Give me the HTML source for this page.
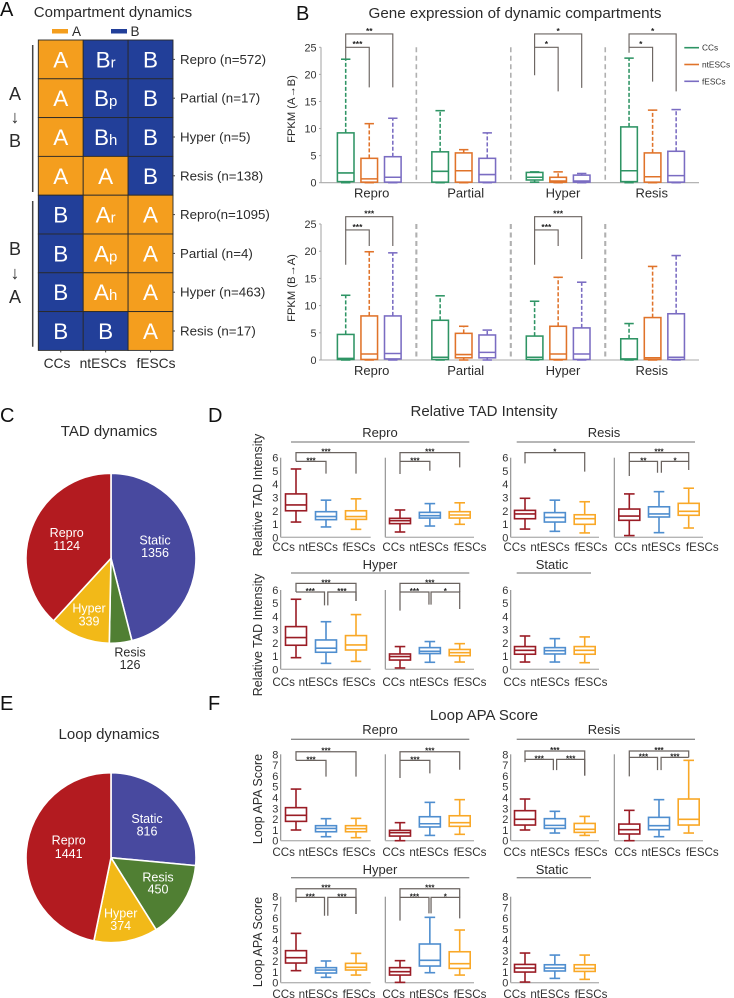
<!DOCTYPE html>
<html lang="en">
<head>
<meta charset="utf-8">
<title>Compartment, TAD and loop dynamics</title>
<style>
html,body{margin:0;padding:0;background:#fff;width:734px;height:998px;overflow:hidden}
svg{display:block;filter:blur(0.3px)}
text{font-family:"Liberation Sans","DejaVu Sans",sans-serif}
</style>
</head>
<body>
<svg id="figure" xmlns="http://www.w3.org/2000/svg" width="734" height="998" viewBox="0 0 734 998"></svg>
<script>
/* ---------- Panel A data ---------- */
const heatmapColumns = ['CCs', 'ntESCs', 'fESCs'];
const heatmapRowLabels = ['Repro (n=572)', 'Partial (n=17)', 'Hyper (n=5)', 'Resis (n=138)', 'Repro(n=1095)', 'Partial (n=4)', 'Hyper (n=463)', 'Resis (n=17)'];
const heatmapCells = [
  ['A', 'Br', 'B'], ['A', 'Bp', 'B'], ['A', 'Bh', 'B'], ['A', 'A', 'B'],
  ['B', 'Ar', 'A'], ['B', 'Ap', 'A'], ['B', 'Ah', 'A'], ['B', 'B', 'A']
];

/* ---------- Panel B data: [low, q1, median, q3, high] ---------- */
const exprGroups = ['Repro', 'Partial', 'Hyper', 'Resis'];
const exprSeries = ['CCs', 'ntESCs', 'fESCs'];
const exprTicks = [0, 5, 10, 15, 20, 25];
const exprTopRepro = [[0, 0.2, 1.8, 9.2, 22.8], [0, 0.1, 0.7, 4.5, 10.9], [0, 0.1, 1.0, 4.8, 11.9]];
const exprTopPartial = [[0, 0.1, 2.1, 5.7, 13.3], [0, 0.1, 2.2, 5.5, 6.1], [0, 0.1, 1.5, 4.5, 9.2]];
const exprTopHyper = [[0.1, 0.5, 1.0, 1.9, 2.0], [0, 0.1, 0.3, 1.0, 2.0], [0, 0.1, 0.3, 1.4, 1.7]];
const exprTopResis = [[0, 0.2, 2.2, 10.3, 23.0], [0, 0.1, 1.1, 5.5, 13.4], [0, 0.1, 1.3, 5.8, 13.5]];
const exprBottomRepro = [[0, 0.1, 0.3, 4.7, 11.9], [0, 0.1, 1.1, 8.1, 19.9], [0, 0.2, 1.2, 8.1, 19.7]];
const exprBottomPartial = [[0, 0.1, 0.5, 7.3, 11.8], [0, 0.4, 1.0, 4.9, 6.2], [0, 0.4, 1.4, 4.6, 5.5]];
const exprBottomHyper = [[0, 0.1, 0.5, 4.4, 10.8], [0, 0.1, 1.1, 6.2, 15.2], [0, 0.1, 1.1, 5.9, 14.3]];
const exprBottomResis = [[0, 0.1, 0.2, 3.9, 6.7], [0, 0.1, 0.4, 7.8, 17.2], [0, 0.1, 0.5, 8.5, 19.2]];
/* significance brackets, in axis units: [from, to, level, dropFrom, dropTo, stars] */
const sigTopRepro = [[0, 2, 27.46, 25, 17.6, '**'], [0, 1, 25, 22.9, 17.6, '***']];
const sigTopHyper = [[0, 2, 27.46, 25, 17.5, '*'], [0, 1, 25, 19.83, 16.87, '*']];
const sigTopResis = [[0, 2, 27.46, 25, 16.87, '*'], [0, 1, 25, 24, 18.66, '*']];
const sigBottomRepro = [[0, 2, 26.35, 23.9, 20.96, '***'], [0, 1, 23.9, 17.5, 20.96, '***']];
const sigBottomHyper = [[0, 2, 26.35, 23.9, 18.57, '***'], [0, 1, 23.9, 17.5, 20.96, '***']];

/* ---------- Panel C / E data ---------- */
const pieLabels = ['Static', 'Resis', 'Hyper', 'Repro'];
const tadCounts = [1356, 126, 339, 1124];
const loopCounts = [816, 450, 374, 1441];

/* ---------- Panel D data: [low, q1, median, q3, high] ---------- */
const boxCategories = ['CCs', 'ntESCs', 'fESCs'];
const tadTicks = [0, 1, 2, 3, 4, 5, 6];
const tadReproA = [[1.15, 2.0, 2.44, 3.27, 5.15], [0.78, 1.33, 1.56, 1.93, 2.8], [0.6, 1.35, 1.56, 2.0, 2.9]];
const tadReproB = [[0.4, 1.03, 1.25, 1.43, 2.06], [0.85, 1.45, 1.63, 1.88, 2.54], [0.98, 1.45, 1.68, 1.93, 2.6]];
const tadResisA = [[0.62, 1.4, 1.76, 2.03, 2.94], [0.45, 1.15, 1.5, 1.86, 2.8], [0.33, 0.98, 1.4, 1.7, 2.68]];
const tadResisB = [[0.13, 1.28, 1.6, 2.13, 3.27], [0.35, 1.53, 1.76, 2.3, 3.44], [0.7, 1.66, 1.96, 2.56, 3.7]];
const tadHyperA = [[0.88, 1.82, 2.4, 3.23, 5.3], [0.45, 1.29, 1.6, 2.22, 3.6], [0.6, 1.46, 1.84, 2.55, 4.14]];
const tadHyperB = [[0.1, 0.7, 0.96, 1.16, 1.72], [0.53, 1.19, 1.36, 1.64, 2.1], [0.55, 1.03, 1.26, 1.5, 1.94]];
const tadStatic = [[0.55, 1.14, 1.44, 1.72, 2.52], [0.55, 1.16, 1.41, 1.64, 2.32], [0.5, 1.14, 1.44, 1.72, 2.45]];
const sigTadReproA = [[0, 2, 6.38, 5.72, 4.8, '***'], [0, 1, 5.72, 5.72, 4.8, '***']];
const sigTadReproB = [[0, 2, 6.38, 4.77, 5.27, '***'], [0, 1, 5.72, 5.72, 5.02, '***']];
const sigTadResisA = [[0, 2, 6.38, 5.57, 4.95, '*']];
const sigTadResisB = [[0, 2, 6.38, 4.62, 5.72, '***'], [0, 0.95, 5.72, 5.72, 4.87, '**'], [1.08, 2, 5.72, 4.87, 5.07, '*']];
const sigTadHyperA = [[0, 2, 6.5, 5.85, 5.17, '***'], [0, 0.95, 5.85, 5.85, 4.84, '***'], [1.06, 2, 5.85, 4.84, 5.17, '***']];
const sigTadHyperB = [[0, 2, 6.5, 4.44, 5.85, '***'], [0, 0.97, 5.85, 5.85, 4.89, '***'], [1.04, 2, 5.85, 4.89, 4.56, '*']];

/* ---------- Panel F data: [low, q1, median, q3, high] ---------- */
const apaTicks = [0, 1, 2, 3, 4, 5, 6, 7, 8];
const apaReproA = [[0.99, 1.79, 2.35, 3.06, 4.78], [0.37, 0.83, 1.14, 1.39, 2.04], [0.28, 0.83, 1.11, 1.39, 2.07]];
const apaReproB = [[0, 0.43, 0.74, 0.96, 1.67], [0.49, 1.27, 1.57, 2.22, 3.55], [0.59, 1.33, 1.67, 2.31, 3.8]];
const apaResisA = [[0.99, 1.45, 1.98, 2.78, 3.86], [0.71, 1.14, 1.42, 2.04, 2.72], [0.49, 0.77, 1.05, 1.6, 2.25]];
const apaResisB = [[0, 0.62, 1.02, 1.54, 2.81], [0.37, 1.02, 1.39, 2.16, 3.8], [0.71, 1.45, 1.98, 3.86, 7.44]];
const apaHyperA = [[1.12, 1.83, 2.33, 2.98, 4.59], [0.5, 0.9, 1.18, 1.4, 2.02], [0.71, 1.18, 1.43, 1.8, 2.73]];
const apaHyperB = [[0.03, 0.71, 1.02, 1.4, 2.05], [0.93, 1.55, 2.08, 3.6, 6.08], [0.71, 1.33, 1.77, 2.88, 4.9]];
const apaStatic = [[0.06, 0.99, 1.36, 1.7, 2.76], [0.4, 1.09, 1.36, 1.67, 2.57], [0.31, 1.05, 1.33, 1.67, 2.57]];
const sigApaReproA = [[0, 2, 8.24, 7.44, 5.93, '***'], [0, 1, 7.44, 7.44, 5.93, '***']];
const sigApaReproB = [[0, 2, 8.24, 5.8, 6.57, '***'], [0, 1, 7.44, 7.44, 6.23, '***']];
const sigApaResisA = [[0, 2, 8.3, 7.28, 6.02, '***'], [0, 0.95, 7.53, 7.53, 6.54, '***'], [1.06, 2, 7.53, 6.54, 6.02, '***']];
const sigApaResisB = [[0, 2, 8.3, 5.96, 7.72, '***'], [0, 0.95, 7.72, 7.72, 6.54, '***'], [1.07, 2, 7.72, 6.54, 7.72, '***']];
const sigApaHyperA = [[0, 2, 8.74, 7.5, 6.39, '***'], [0, 0.95, 7.94, 7.94, 6.23, '***'], [1.06, 2, 7.94, 6.23, 6.39, '***']];
const sigApaHyperB = [[0, 2, 8.74, 5.77, 7.94, '***'], [0, 0.97, 7.94, 7.94, 6.45, '***'], [1.04, 2, 7.94, 6.45, 5.98, '*']];

/* ---------- helpers ---------- */
const NS = 'http://www.w3.org/2000/svg';
const root = document.getElementById('figure');
const INK = '#2b2b2b';
function mk(tag, parent, attrs) {
  const el = document.createElementNS(NS, tag);
  for (const k in attrs) el.setAttribute(k, attrs[k]);
  parent.appendChild(el);
  return el;
}
function txt(parent, x, y, s, size, fill, anchor) {
  const el = mk('text', parent, {x: x, y: y, 'font-size': size, fill: fill || INK, 'text-anchor': anchor || 'start'});
  el.textContent = s;
  return el;
}
function line(parent, x1, y1, x2, y2, stroke, width) {
  return mk('line', parent, {x1: x1, y1: y1, x2: x2, y2: y2, stroke: stroke, 'stroke-width': width});
}
function group(parent) {
  return mk('g', parent, {});
}
function slug(s) {
  return s.toLowerCase().replace(/[^a-z0-9]+/g, '-').replace(/^-|-$/g, '');
}

/* ---------- panel letters and titles ---------- */
function panelLetter(s, x, y) {
  const el = txt(root, x, y, s, 20, '#111');
  
  
}
panelLetter('A', 0, 16);
panelLetter('B', 296, 20);
panelLetter('C', 0, 422);
panelLetter('D', 208, 422);
panelLetter('E', 0, 710);
panelLetter('F', 208, 710);

function figTitle(s, x, y, size) {
  const el = txt(root, x, y, s, size, INK, 'middle');
  
  
}
figTitle('Compartment dynamics', 113, 17, 15);
figTitle('Gene expression of dynamic compartments', 515, 18, 15.2);
figTitle('TAD dynamics', 109, 436, 15);
figTitle('Loop dynamics', 109, 739, 15);
figTitle('Relative TAD Intensity', 484, 416, 15);
figTitle('Loop APA Score', 484, 720, 15);

/* ---------- Panel A ---------- */
(function () {
  const g = group(root);
  
  
  const ORANGE = '#F49E1E', BLUE = '#223F99';
  const hx = c => 38.3 + c * 44.9;
  const hy = r => 40 + r * 38.8;

  const legA = mk('rect', g, {x: 52, y: 29, width: 16, height: 4.5, fill: ORANGE});
  
  
  const legAT = txt(g, 72, 36, 'A', 13.5);
  
  
  const legB = mk('rect', g, {x: 111, y: 29, width: 16, height: 4.5, fill: BLUE});
  
  
  const legBT = txt(g, 130.5, 36, 'B', 13.5);
  
  

  heatmapCells.forEach((row, r) => {
    row.forEach((cell, c) => {
      const rect = mk('rect', g, {x: hx(c), y: hy(r), width: hx(c + 1) - hx(c), height: hy(r + 1) - hy(r), fill: cell[0] === 'A' ? ORANGE : BLUE, stroke: '#2a2a2a', 'stroke-width': 0.9});
      
      
      const t = txt(g, (hx(c) + hx(c + 1)) / 2, (hy(r) + hy(r + 1)) / 2 + 8, cell[0], 22.5, '#fff', 'middle');
      
      
      if (cell.length > 1) {
        const sub = mk('tspan', t, {'font-size': 15});
        sub.textContent = cell.slice(1);
        
        
      }
    });
    const tick = line(g, hx(3), (hy(r) + hy(r + 1)) / 2, hx(3) + 2, (hy(r) + hy(r + 1)) / 2, '#444', 1);
    
    
    const lab = txt(g, 180, (hy(r) + hy(r + 1)) / 2 + 4.5, heatmapRowLabels[r], 13.3);
    
    
  });
  heatmapColumns.forEach((s, c) => {
    const tick = line(g, (hx(c) + hx(c + 1)) / 2, hy(8), (hx(c) + hx(c + 1)) / 2, hy(8) + 2, '#444', 1);
    
    
    const t = txt(g, [57, 103, 156][c], 368, s, 13.8, INK, 'middle');
    
    
  });

  const b1 = line(g, 32.7, 45, 32.7, 192, '#444', 1.5);
  
  
  const b2 = line(g, 32.7, 201, 32.7, 346.7, '#444', 1.5);
  
  
  [['A', 100], ['\u2193', 123], ['B', 147], ['B', 255], ['\u2193', 279], ['A', 303]].forEach(item => {
    const t = txt(g, 15, item[1], item[0], 18, INK, 'middle');
    
    
  });
})();

/* ---------- shared box drawing ---------- */
function drawBox(parent, xc, halfW, capHalf, y, stats, color, dashed, sw) {
  const g = group(parent);
  
  
  const dash = dashed ? '4 2' : 'none';
  const upper = line(g, xc, y(stats[3]), xc, y(stats[4]), color, sw);
  upper.setAttribute('stroke-dasharray', dash);
  
  
  const lower = line(g, xc, y(stats[1]), xc, y(stats[0]), color, sw);
  
  
  const capHi = line(g, xc - capHalf, y(stats[4]), xc + capHalf, y(stats[4]), color, sw);
  
  
  const capLo = line(g, xc - capHalf, y(stats[0]), xc + capHalf, y(stats[0]), color, sw);
  
  
  const body = mk('rect', g, {x: xc - halfW, y: y(stats[3]), width: halfW * 2, height: y(stats[1]) - y(stats[3]), fill: '#fff', stroke: color, 'stroke-width': sw});
  
  
  const med = line(g, xc - halfW, y(stats[2]), xc + halfW, y(stats[2]), color, sw);
  
  
}
function drawBracket(parent, spec, xPos, y, starGap, starSize, stroke, sw) {
  const g = group(parent);
  
  
  const x1 = xPos(spec[0]), x2 = xPos(spec[1]), yL = y(spec[2]);
  const p = mk('path', g, {d: 'M' + x1 + ' ' + y(spec[3]) + 'V' + yL + 'H' + x2 + 'V' + y(spec[4]), fill: 'none', stroke: stroke, 'stroke-width': sw});
  
  
  const s = txt(g, (x1 + x2) / 2, yL - starGap + starSize * 0.58, spec[5], starSize, '#222', 'middle');
  s.setAttribute('font-weight', 'bold');
  
  
}

/* ---------- Panel B ---------- */
function drawExprChart(name, y0, yTop, yTitle, titleY, labelY, dividerWidth, dataByGroup, sigByGroup) {
  const g = group(root);
  
  
  const COLORS = ['#2E9464', '#E0732A', '#7A6CC2'];
  const y = v => y0 + (yTop - y0) * v / 25;
  const bx = (gi, m) => 345.7 + gi * 94.45 + m * 23.55;

  const ax = line(g, 321, y(25), 321, y(0), '#aaa', 1.1);
  
  
  exprTicks.forEach(v => {
    const t = line(g, 319, y(v), 321, y(v), '#aaa', 1);
    
    
    const l = txt(g, 316.5, y(v) + 4, String(v), 10.8, '#333', 'end');
    
    
  });
  const tt = txt(g, 295, titleY, yTitle, 11.2, INK, 'middle');
  tt.setAttribute('transform', 'rotate(-90 295 ' + titleY + ')');
  
  

  [1, 2, 3].forEach(i => {
    const d = line(g, bx(i - 1, 3), y(25), bx(i - 1, 3), y(0), '#b0b0b0', dividerWidth);
    d.setAttribute('stroke-dasharray', '5 3.5');
    
    
  });
  const xAxis = line(g, 321, y(0), 699, y(0), '#aaa', 1.1);
  
  

  dataByGroup.forEach((series, gi) => {
    series.forEach((stats, m) => {
      drawBox(g, bx(gi, m), 8.3, 4.7, y, stats, COLORS[m], true, 1.55);
    });
    const lab = txt(g, [371.7, 465.7, 563, 651.7][gi], labelY, exprGroups[gi], 13, INK, 'middle');
    
    
    (sigByGroup[gi] || []).forEach(spec => {
      drawBracket(g, spec, m => bx(gi, m), y, 5, 8.5, '#6b6460', 1.15);
    });
  });
}
drawExprChart('expression-chart-a-to-b', 182.7, 47.3, 'FPKM (A\u2192B)', 109, 197.5, 1.6,
  [exprTopRepro, exprTopPartial, exprTopHyper, exprTopResis], [sigTopRepro, [], sigTopHyper, sigTopResis]);
drawExprChart('expression-chart-b-to-a', 360, 224, 'FPKM (B\u2192A)', 288, 375, 2.1,
  [exprBottomRepro, exprBottomPartial, exprBottomHyper, exprBottomResis], [sigBottomRepro, [], sigBottomHyper, []]);

(function () {
  const g = group(root);
  
  
  const COLORS = ['#2E9464', '#E0732A', '#7A6CC2'];
  exprSeries.forEach((s, i) => {
    const yy = 47.7 + i * 16.8;
    const l = line(g, 684.3, yy, 699, yy, COLORS[i], 1.6);
    
    
    const t = txt(g, 702, yy + 3, s, 8.3, '#333');
    
    
  });
})();

/* ---------- Panels C / E (pies) ---------- */
function drawPie(name, cx, cy, r, counts, labelPos) {
  const g = group(root);
  
  
  const COLORS = ['#48499F', '#507F33', '#F2B918', '#B31B20'];
  const total = counts.reduce((a, b) => a + b, 0);
  let a = 0;
  counts.forEach((v, i) => {
    const a2 = a + v / total * Math.PI * 2;
    const pt = ang => (cx + r * Math.sin(ang)) + ' ' + (cy - r * Math.cos(ang));
    const p = mk('path', g, {d: 'M' + cx + ' ' + cy + 'L' + pt(a) + 'A' + r + ' ' + r + ' 0 ' + (a2 - a > Math.PI ? 1 : 0) + ' 1 ' + pt(a2) + 'Z', fill: COLORS[i], stroke: '#fff', 'stroke-width': 1.6});
    
    
    a = a2;
  });
  counts.forEach((v, i) => {
    const c = labelPos[i];
    const col = c[3] || '#fff';
    const t1 = txt(g, c[0], c[1], pieLabels[i], 12.5, col, 'middle');
    
    
    const t2 = txt(g, c[0], c[2], String(v), 12.5, col, 'middle');
    
    
  });
}
drawPie('tad-dynamics-pie', 111, 558.3, 85, tadCounts, [[155, 544.5, 557], [130, 656.5, 669, '#2b2b2b'], [89, 612.5, 625.5], [66.7, 537, 550]]);
drawPie('loop-dynamics-pie', 111, 857.7, 85, loopCounts, [[147, 823, 835.5], [158, 881.5, 893.5], [120.7, 917.5, 930], [68.7, 844.5, 858]]);

/* ---------- Panels D / F ---------- */
const RED = '#9A1C25', SKY = '#4F8ECF', AMBER = '#F9A827';
function drawPanel(name, axisX, firstX, step, endX, y0, yTop, ticks, showTicks, labelCenters, labelY, stats, sigs, starGap) {
  const g = group(root);
  
  
  const maxT = ticks[ticks.length - 1];
  const y = v => y0 + (yTop - y0) * v / maxT;
  const xp = i => firstX + i * step;
  const ya = line(g, axisX, y(maxT), axisX, y(0), '#8a8a8a', 1.1);
  
  
  const xa = line(g, axisX, y(0), endX, y(0), '#b5b5b5', 1.3);
  
  
  if (showTicks) {
    ticks.forEach(v => {
      const l = txt(g, axisX - 2.3, y(v) + 4, String(v), 11, '#333', 'end');
      
      
    });
  }
  const colors = [RED, SKY, AMBER];
  stats.forEach((s, i) => {
    drawBox(g, xp(i), 10.5, 5.3, y, s, colors[i], false, 1.6);
    const l = txt(g, labelCenters[i], labelY, boxCategories[i], 11.6, '#333', 'middle');
    
    
  });
  sigs.forEach(spec => {
    drawBracket(g, spec, xp, y, starGap, 8, '#6b6460', 1.25);
  });
}
const COL1 = [283.7, 318.3, 359], COL2 = [393.7, 429, 470], COL3 = [514.7, 550, 591], COL4 = [625.7, 661, 702.3];

drawPanel('tad-repro-left', 280.7, 296, 30, 370.7, 537.3, 457.7, tadTicks, true, COL1, 551, tadReproA, sigTadReproA, 2.7);
drawPanel('tad-repro-right', 385.3, 400, 29.85, 474, 537.3, 457.7, tadTicks, false, COL2, 551, tadReproB, sigTadReproB, 2.7);
drawPanel('tad-resis-left', 510.7, 525, 29.85, 599, 537.3, 457.7, tadTicks, true, COL3, 551, tadResisA, sigTadResisA, 2.7);
drawPanel('tad-resis-right', 614.3, 629.3, 29.7, 703, 537.3, 457.7, tadTicks, false, COL4, 551, tadResisB, sigTadResisB, 2.7);
drawPanel('tad-hyper-left', 280.7, 296, 30, 370.7, 669.3, 590, tadTicks, true, COL1, 686, tadHyperA, sigTadHyperA, 2.7);
drawPanel('tad-hyper-right', 385.3, 400, 29.85, 474, 669.3, 590, tadTicks, false, COL2, 686, tadHyperB, sigTadHyperB, 2.7);
drawPanel('tad-static', 510.7, 525, 29.85, 599, 669.3, 590, tadTicks, true, COL3, 686, tadStatic, [], 2.7);

drawPanel('apa-repro-left', 280.7, 296, 30, 370.7, 840.7, 754.3, apaTicks, true, COL1, 856, apaReproA, sigApaReproA, 2.7);
drawPanel('apa-repro-right', 385.3, 400, 29.85, 474, 840.7, 754.3, apaTicks, false, COL2, 856, apaReproB, sigApaReproB, 2.7);
drawPanel('apa-resis-left', 510.7, 525, 29.85, 599, 840.7, 754.3, apaTicks, true, COL3, 856, apaResisA, sigApaResisA, 2.7);
drawPanel('apa-resis-right', 614.3, 629.3, 29.7, 703, 840.7, 754.3, apaTicks, false, COL4, 856, apaResisB, sigApaResisB, 2.7);
drawPanel('apa-hyper-left', 280.7, 296, 30, 370.7, 982.7, 896.7, apaTicks, true, COL1, 998, apaHyperA, sigApaHyperA, 2.7);
drawPanel('apa-hyper-right', 385.3, 400, 29.85, 474, 982.7, 896.7, apaTicks, false, COL2, 998, apaHyperB, sigApaHyperB, 2.7);
drawPanel('apa-static', 510.7, 525, 29.85, 599, 982.7, 896.7, apaTicks, true, COL3, 998, apaStatic, [], 2.7);

function sectionHeader(s, cx, textY, lineY, x1, x2) {
  const t = txt(root, cx, textY, s, 13, INK, 'middle');
  
  
  const l = line(root, x1, lineY, x2, lineY, '#8a8a8a', 1.3);
  
  
}
sectionHeader('Repro', 380, 437, 442, 291, 469.3);
sectionHeader('Resis', 604, 437, 442, 516.7, 695);
sectionHeader('Hyper', 380, 569, 573, 291, 469.3);
sectionHeader('Static', 552, 569, 573, 516.7, 591);
sectionHeader('Repro', 380, 734, 739.3, 291, 469.3);
sectionHeader('Resis', 604, 734, 739.3, 516.7, 695);
sectionHeader('Hyper', 380, 874, 877.7, 291, 469.3);
sectionHeader('Static', 552, 874, 877.7, 516.7, 591);

function sideTitle(s, cy) {
  const t = txt(root, 262, cy, s, 12.5, INK, 'middle');
  t.setAttribute('transform', 'rotate(-90 262 ' + cy + ')');
  
  
}
sideTitle('Relative TAD Intensity', 495);
sideTitle('Relative TAD Intensity', 635);
sideTitle('Loop APA Score', 799);
sideTitle('Loop APA Score', 942);
</script>
</body>
</html>
